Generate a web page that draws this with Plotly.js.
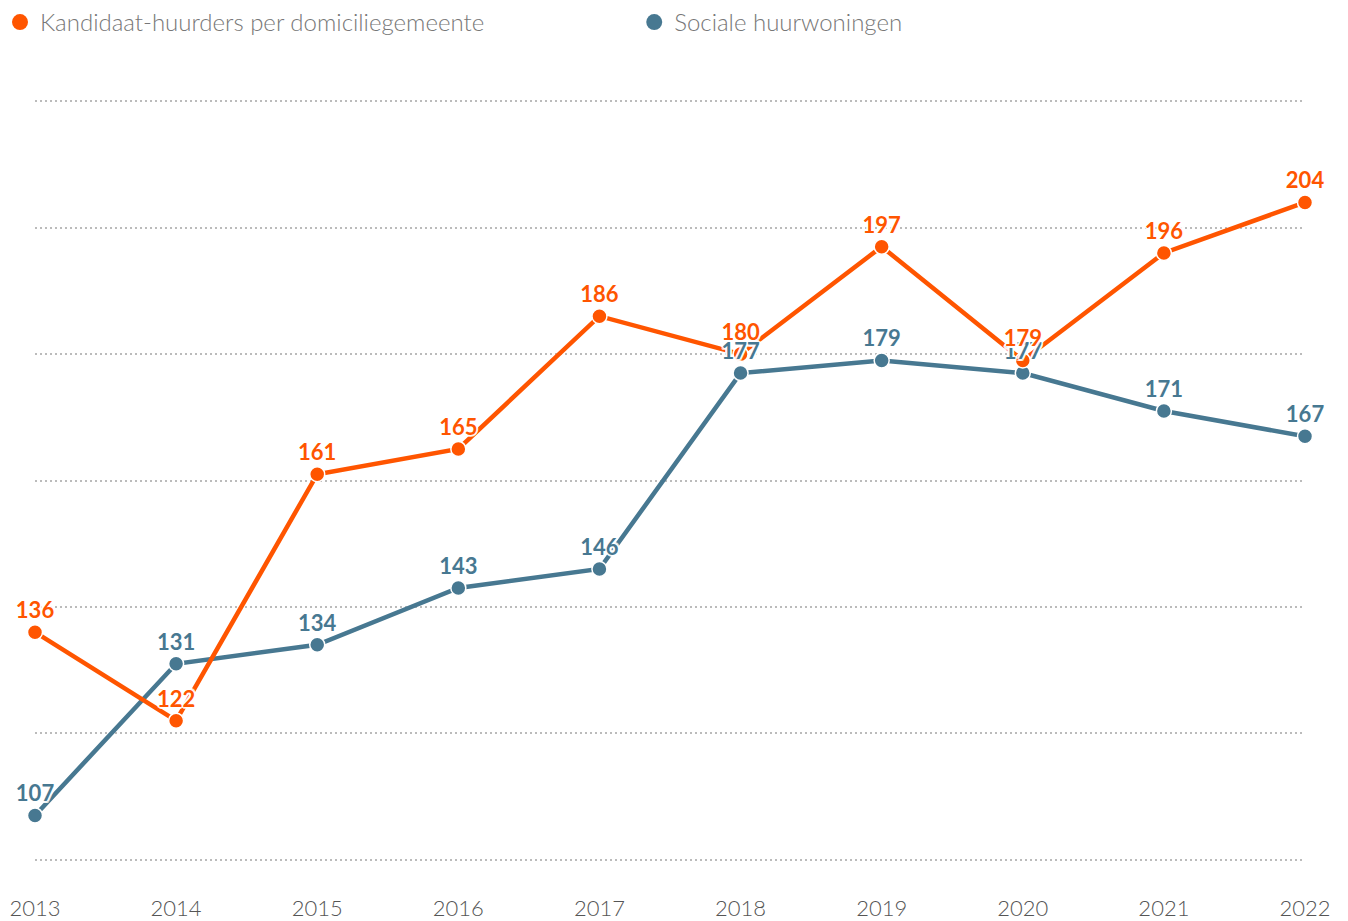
<!DOCTYPE html>
<html>
<head>
<meta charset="utf-8">
<script src="https://cdn.plot.ly/plotly-3.0.1.min.js"></script>
<style>html,body{margin:0;padding:0;background:#fff;}#chart{width:1348px;height:921px;}</style>
</head>
<body>
<div id="chart"></div>
<script>
const years = [2013, 2014, 2015, 2016, 2017, 2018, 2019, 2020, 2021, 2022];
const kandidaatHuurders = [136, 122, 161, 165, 186, 180, 197, 179, 196, 204];
const socialeHuurwoningen = [107, 131, 134, 143, 146, 177, 179, 177, 171, 167];
const seriesNames = ['Kandidaat-huurders per domiciliegemeente', 'Sociale huurwoningen'];
const gridValues = [100, 120, 140, 160, 180, 200, 220];

const ORANGE = '#ff5500';
const BLUE = '#477891';
const FONT = 'Lato, "Open Sans", sans-serif';
const w = 'rgba(255,255,255,0.75)';
const halo = ['2px 0 0', '-2px 0 0', '0 2px 0', '0 -2px 0', '1.5px 1.5px 0', '-1.5px -1.5px 0', '1.5px -1.5px 0', '-1.5px 1.5px 0'].map(s => s + ' ' + w).join(', ');

function lineTrace(y, color) {
  return {
    x: years, y: y, type: 'scatter', mode: 'lines+markers', showlegend: false,
    line: {color: color, width: 4.5},
    marker: {color: color, size: 15, line: {color: '#fff', width: 1.5}},
    cliponaxis: false, hoverinfo: 'skip'
  };
}
function textTrace(y, color) {
  return {
    x: years, y: y, type: 'scatter', mode: 'markers+text', showlegend: false,
    marker: {size: 12, opacity: 0, color: color},
    text: y.map(String), textposition: 'top center',
    textfont: {family: FONT, size: 22, color: color, weight: 700, shadow: halo},
    cliponaxis: false, hoverinfo: 'skip'
  };
}
function legendTrace(name, color, legendId) {
  return {
    x: [null], y: [null], type: 'scatter', mode: 'markers', name: name,
    marker: {color: color, size: 17}, legend: legendId, hoverinfo: 'skip'
  };
}

const data = [
  lineTrace(socialeHuurwoningen, BLUE),
  lineTrace(kandidaatHuurders, ORANGE),
  textTrace(socialeHuurwoningen, BLUE),
  textTrace(kandidaatHuurders, ORANGE),
  legendTrace(seriesNames[0], ORANGE, 'legend'),
  legendTrace(seriesNames[1], BLUE, 'legend2')
];

const legendFont = {family: FONT, size: 24, color: '#777', weight: 300};
const layout = {
  width: 1348, height: 921,
  paper_bgcolor: '#fff', plot_bgcolor: '#fff',
  margin: {l: 35, r: 43, t: 95, b: 55},
  font: {family: FONT, color: '#555'},
  showlegend: true,
  legend: {
    orientation: 'h', x: -0.008, xref: 'container', y: 1.0, yref: 'container', yanchor: 'top',
    xanchor: 'left', font: legendFont, itemclick: false
  },
  legend2: {
    orientation: 'h', x: 0.4705, xref: 'container', y: 1.0, yref: 'container', yanchor: 'top',
    xanchor: 'left', font: legendFont, itemclick: false
  },
  xaxis: {
    range: [2013, 2022], showgrid: false, zeroline: false, showline: false,
    tickvals: years, ticktext: years.map(String), ticks: '',
    ticklabelstandoff: 27,
    tickfont: {family: FONT, size: 22, color: '#555', weight: 300}
  },
  yaxis: {
    range: [99, 221], tickvals: gridValues,
    showticklabels: false, zeroline: false, showline: false,
    showgrid: true, gridcolor: '#bbbbbb', gridwidth: 2, griddash: '2px,3px'
  }
};

Plotly.newPlot('chart', data, layout, {displayModeBar: false, staticPlot: true});
</script>
</body>
</html>
